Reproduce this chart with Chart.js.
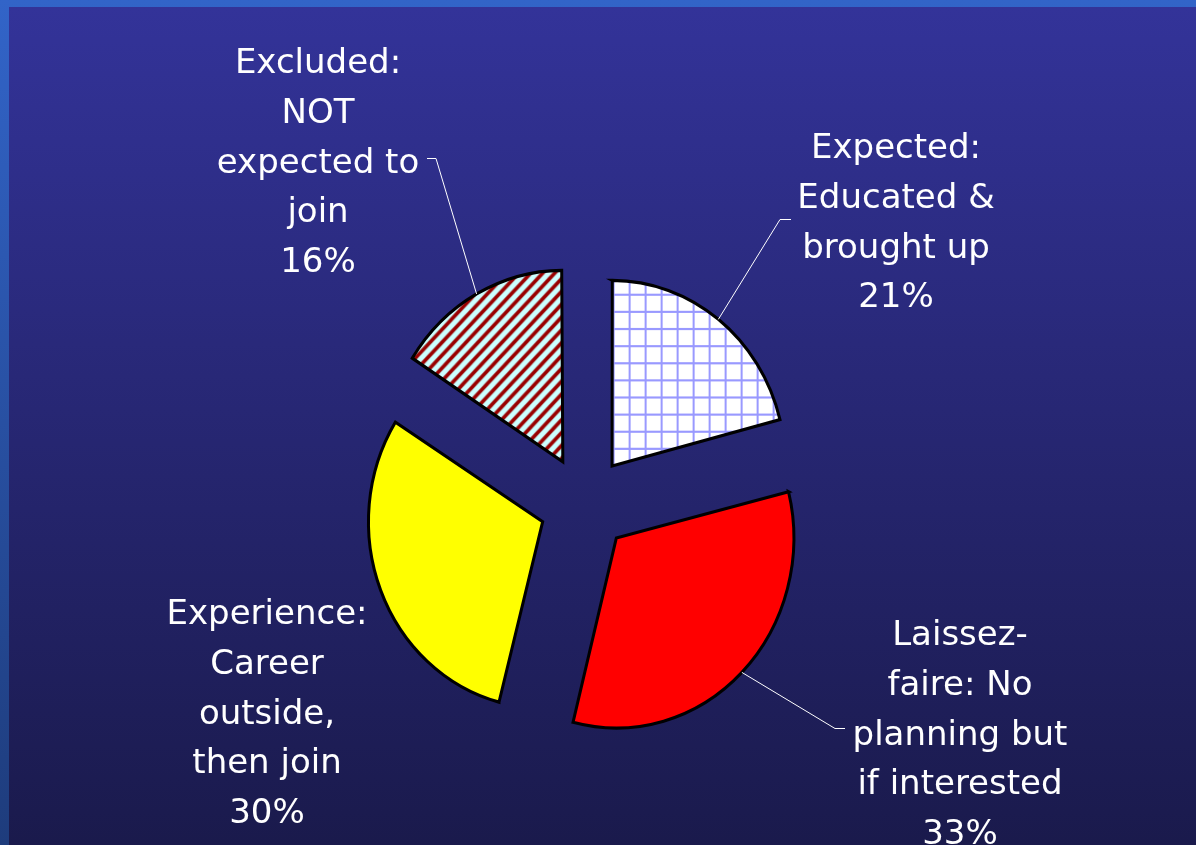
<!DOCTYPE html>
<html>
<head>
<meta charset="utf-8">
<script src="https://cdn.jsdelivr.net/npm/chart.js@4.4.1/dist/chart.umd.min.js"></script>
<style>
  html, body { margin: 0; padding: 0; }
  body {
    width: 1196px; height: 845px; overflow: hidden; position: relative;
    background: linear-gradient(to bottom, #3264c8 0%, #1e3c7c 100%);
  }
  #wrap {
    position: absolute; left: 9px; top: 7px; width: 1187px; height: 838px;
    background: linear-gradient(to bottom, #333399 0%, #1a1a4c 100%);
  }
</style>
</head>
<body>
<div id="wrap"><canvas id="myChart"></canvas></div>
<script>
/* DATA */
const categories = ['Expected', 'Laissez-faire', 'Experience', 'Excluded']
const shares = [21, 33, 30, 16]
const labelLines = [
  ['Expected:', 'Educated &', 'brought up'],
  ['Laissez-', 'faire: No', 'planning but', 'if interested'],
  ['Experience:', 'Career', 'outside,', 'then join'],
  ['Excluded:', 'NOT', 'expected to', 'join']
]

/* the original pie is slightly stretched vertically */
const STRETCH_Y = 1.07

/* PATTERNS */
function gridPattern() {
  const c = document.createElement('canvas')
  c.width = 16; c.height = 16
  const g = c.getContext('2d')
  g.fillStyle = '#ffffff'
  g.fillRect(0, 0, 16, 16)
  g.fillStyle = '#9999ff'
  g.fillRect(0, 0, 2, 16)
  g.fillRect(0, 0, 16, 2)
  return g.createPattern(c, 'repeat')
}

function stripePattern() {
  const c = document.createElement('canvas')
  c.width = 12; c.height = 12
  const g = c.getContext('2d')
  g.fillStyle = '#ccffff'
  g.fillRect(0, 0, 12, 12)
  g.strokeStyle = '#990000'
  g.lineWidth = 3.6
  g.beginPath()
  g.moveTo(-6, 6); g.lineTo(6, -6)
  g.moveTo(0, 12); g.lineTo(12, 0)
  g.moveTo(6, 18); g.lineTo(18, 6)
  g.stroke()
  return g.createPattern(c, 'repeat')
}

/* label placement (canvas px) */
const labelPos = [
  { x: 887, y: 151, line: [[782, 212.5], [771, 212.5]] },
  { x: 951, y: 638, line: [[836, 721.5], [826, 721.5]] },
  { x: 258, y: 617, line: null },
  { x: 309, y: 66, line: [[418, 151.5], [427, 151.5]] }
]

const stretch = {
  id: 'stretch',
  beforeDatasetsDraw(chart) {
    const arc = chart.getDatasetMeta(0).data[0]
    const ctx = chart.ctx
    ctx.save()
    ctx.translate(arc.x, arc.y)
    ctx.scale(1, STRETCH_Y)
    ctx.translate(-arc.x, -arc.y)
  },
  afterDatasetsDraw(chart) {
    chart.ctx.restore()
  }
}

const pieLabels = {
  id: 'pieLabels',
  afterDraw(chart) {
    const ctx = chart.ctx
    const arcs = chart.getDatasetMeta(0).data
    ctx.save()
    ctx.strokeStyle = '#ffffff'
    ctx.lineWidth = 1
    arcs.forEach((arc, i) => {
      const p = labelPos[i]
      if (p.line) {
        const mid = (arc.startAngle + arc.endAngle) / 2
        const shift = (arc.options.offset || 0) / 4
        const circ = arc.endAngle - arc.startAngle
        const r = arc.outerRadius + shift * (1 - Math.sin(Math.min(Math.PI, circ)))
        const ex = arc.x + Math.cos(mid) * (shift + r)
        const ey = arc.y + Math.sin(mid) * (shift + r) * STRETCH_Y
        ctx.beginPath()
        ctx.moveTo(p.line[0][0], p.line[0][1])
        ctx.lineTo(p.line[1][0], p.line[1][1])
        ctx.lineTo(ex, ey)
        ctx.stroke()
      }
      ctx.fillStyle = '#ffffff'
      ctx.font = '34px "DejaVu Sans"'
      ctx.textAlign = 'center'
      ctx.textBaseline = 'alphabetic'
      const lines = labelLines[i].concat([shares[i] + '%'])
      lines.forEach((t, k) => ctx.fillText(t, p.x, p.y + k * 49.8))
    })
    ctx.restore()
  }
}

const ctx = document.getElementById('myChart').getContext('2d')
const myChart = new Chart(ctx, {
  type: 'pie',
  data: {
    labels: categories,
    datasets: [{
      data: shares,
      backgroundColor: [gridPattern(), '#ff0000', '#ffff00', stripePattern()],
      borderColor: '#000000',
      borderWidth: 3,
      borderJoinStyle: 'miter',
      offset: 180,
      radius: 172
    }]
  },
  options: {
    responsive: true,
    maintainAspectRatio: false,
    animation: false,
    layout: {
      padding: { left: 0, right: 36, top: 156, bottom: 0 }
    },
    plugins: {
      legend: { display: false },
      tooltip: { enabled: false }
    }
  },
  plugins: [stretch, pieLabels]
})
</script>
</body>
</html>
